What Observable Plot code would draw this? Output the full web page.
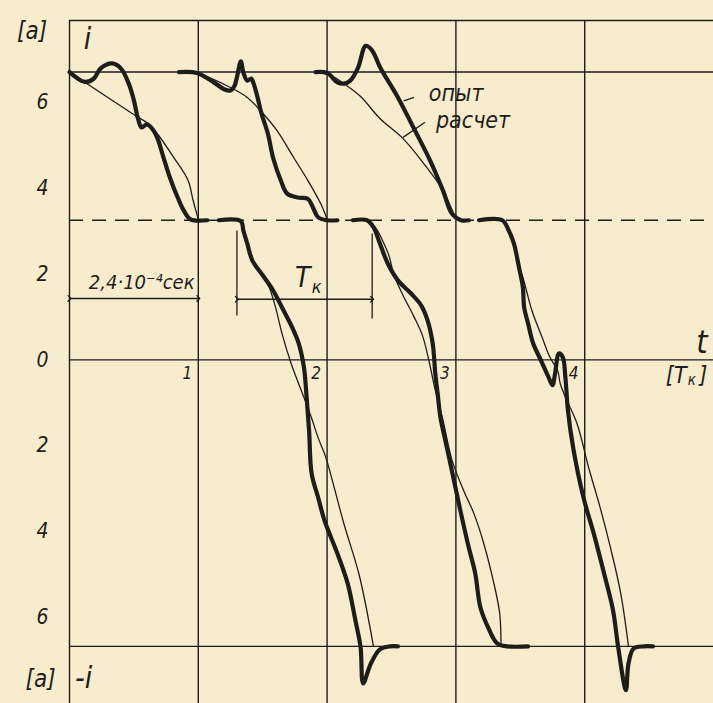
<!DOCTYPE html>
<html>
<head>
<meta charset="utf-8">
<script src="https://cdn.jsdelivr.net/npm/d3@7"></script>
<script src="https://cdn.jsdelivr.net/npm/@observablehq/plot@0.6"></script>
<style>
  html, body { margin: 0; padding: 0; background: #f7ecce; }
  #chart svg { display: block; background: #f7ecce; }
</style>
</head>
<body>
<div id="chart"></div>
<script>
// ---- Reference levels [a] ----
const levelTop = 6.7;
const levelHalf = 3.25;
const levelBottom = -6.67;
const frameTop = 7.9;

// ---- Grid ----
const periodLines = [0, 1, 2, 3, 4];          // t in [T_k]
const currentLines = [frameTop, levelTop, 0, levelBottom];
const yTickValues = [6, 4, 2, 0, -2, -4, -6];
const xTickValues = [1, 2, 3, 4];

// ---- Experiment ("опыт"), [t, i] ----
const expUpper1 = [[0,6.7],[0.12,6.47],[0.19,6.55],[0.24,6.78],[0.33,6.9],[0.4,6.78],[0.46,6.43],[0.5,6.04],[0.53,5.64],[0.56,5.41],[0.6,5.48],[0.64,5.39],[0.68,5.18],[0.73,4.71],[0.78,4.24],[0.84,3.78],[0.89,3.46],[0.94,3.27],[1.07,3.25]];
const expUpper2 = [[0.85,6.7],[0.99,6.68],[1.12,6.46],[1.2,6.3],[1.25,6.27],[1.28,6.37],[1.3,6.58],[1.33,6.95],[1.35,6.69],[1.38,6.5],[1.41,6.55],[1.43,6.43],[1.46,6.11],[1.49,5.74],[1.54,5.27],[1.58,4.71],[1.64,4.18],[1.69,3.87],[1.77,3.78],[1.85,3.75],[1.89,3.55],[1.93,3.32],[2.0,3.25],[2.08,3.25]];
const expUpper3 = [[1.91,6.7],[2.0,6.68],[2.08,6.46],[2.13,6.43],[2.18,6.5],[2.24,6.8],[2.3,7.31],[2.35,7.2],[2.41,6.82],[2.55,6.11],[2.67,5.41],[2.8,4.64],[2.9,3.94],[2.97,3.4],[3.04,3.25],[3.1,3.25]];
const expLower1 = [[1.16,3.25],[1.33,3.23],[1.35,3.01],[1.38,2.71],[1.42,2.31],[1.5,1.97],[1.58,1.62],[1.65,1.22],[1.73,0.75],[1.78,0.38],[1.82,-0.17],[1.84,-0.83],[1.86,-1.64],[1.88,-2.65],[1.93,-3.2],[1.98,-3.74],[2.08,-4.51],[2.16,-5.21],[2.22,-6.07],[2.26,-6.69],[2.28,-7.53],[2.34,-7.07],[2.41,-6.74],[2.49,-6.67],[2.55,-6.67]];
const expLower2 = [[2.2,3.25],[2.31,3.25],[2.36,3.09],[2.41,2.71],[2.47,2.25],[2.55,1.85],[2.65,1.55],[2.73,1.27],[2.78,0.92],[2.82,0.38],[2.84,-0.32],[2.86,-0.83],[2.88,-1.34],[2.93,-2.04],[2.98,-2.74],[3.04,-3.58],[3.1,-4.37],[3.15,-4.97],[3.19,-5.76],[3.25,-6.23],[3.32,-6.6],[3.4,-6.67],[3.56,-6.67]];
const expLower3 = [[3.18,3.25],[3.36,3.25],[3.41,3.01],[3.45,2.71],[3.49,2.15],[3.52,1.69],[3.53,1.22],[3.56,0.85],[3.6,0.38],[3.66,-0.01],[3.72,-0.41],[3.75,-0.59],[3.77,-0.32],[3.8,0.15],[3.83,0.06],[3.85,-0.41],[3.87,-1.18],[3.91,-2.04],[3.99,-3.2],[4.07,-4.04],[4.15,-4.97],[4.22,-5.83],[4.26,-6.69],[4.32,-7.69],[4.34,-7.07],[4.38,-6.72],[4.46,-6.67],[4.53,-6.67]];

// ---- Calculation ("расчет"), [t, i] ----
const calcUpper1 = [[0,6.7],[0.16,6.38],[0.51,5.69],[0.61,5.5],[0.68,5.27],[0.81,4.71],[0.92,4.18],[0.96,3.71],[1.0,3.27]];
const calcUpper2 = [[0.85,6.7],[1.02,6.64],[1.25,6.34],[1.38,6.11],[1.48,5.81],[1.61,5.34],[1.74,4.71],[1.85,4.18],[1.95,3.64],[2.0,3.28]];
const calcUpper3 = [[1.91,6.7],[2.03,6.62],[2.14,6.41],[2.26,6.13],[2.41,5.62],[2.59,5.15],[2.75,4.57],[2.9,3.94],[3.0,3.27]];
const calcLower1 = [[1.33,3.23],[1.35,3.01],[1.38,2.71],[1.42,2.31],[1.5,1.95],[1.55,1.69],[1.6,1.22],[1.65,0.61],[1.72,-0.08],[1.79,-0.64],[1.83,-0.95],[1.88,-1.36],[1.93,-1.81],[1.99,-2.27],[2.03,-2.69],[2.13,-3.81],[2.25,-5.02],[2.36,-6.67]];
const calcLower2 = [[2.31,3.25],[2.38,3.06],[2.43,2.78],[2.48,2.43],[2.52,1.97],[2.59,1.5],[2.67,1.03],[2.74,0.57],[2.79,-0.01],[2.84,-0.71],[2.9,-1.41],[2.97,-2.34],[3.06,-3.04],[3.14,-3.58],[3.21,-4.21],[3.29,-5.14],[3.34,-5.9],[3.35,-6.67]];
const calcLower3 = [[3.36,3.25],[3.41,3.01],[3.45,2.71],[3.49,2.15],[3.52,1.92],[3.59,1.15],[3.67,0.52],[3.73,0.06],[3.79,-0.25],[3.81,-0.55],[3.85,-0.87],[3.94,-1.48],[4.03,-2.5],[4.12,-3.44],[4.2,-4.37],[4.28,-5.44],[4.34,-6.67]];

// ---- Annotations (data coordinates) ----
const secSpan = {t1: 0, t2: 1, i: 1.43, label: "2,4·10⁻⁴сек", lt: 0.15, li: 1.8};
const tkSpan = {t1: 1.3, t2: 2.35, i: 1.41, label: "T", sub: "к", lt: 1.75, li: 1.9};
const tkTicks = [{t: 1.3, i1: 3.01, i2: 1.03}, {t: 2.35, i1: 2.94, i2: 0.96}];
const legendItems = [
  {label: "опыт", lt: 2.79, li: 6.2, t1: 2.595, i1: 6.03, t2: 2.675, i2: 6.11},
  {label: "расчет", lt: 2.845, li: 5.57, t1: 2.59, i1: 5.18, t2: 2.76, i2: 5.53}
];

const toRows = (curves) => curves.flatMap((pts, k) => pts.map(([t, i]) => ({t, i, k})));
const expRows = toRows([expUpper1, expUpper2, expUpper3, expLower1, expLower2, expLower3]);
const calcRows = toRows([calcUpper1, calcUpper2, calcUpper3, calcLower1, calcLower2, calcLower3]);

const ink = "#1f1d1a";
const font = "'Liberation Sans Narrow', 'DejaVu Sans Condensed', 'DejaVu Sans', sans-serif";
const txt = {fill: ink, fontStyle: "italic", fontFamily: font, stroke: null};

const chart = Plot.plot({
  width: 713,
  height: 703,
  marginLeft: 69,
  marginRight: 0,
  marginTop: 20,
  marginBottom: 0,
  x: {domain: [0, 5], axis: null},
  y: {domain: [-8, frameTop], axis: null},
  style: {background: "transparent", fontFamily: font},
  marks: [
    Plot.ruleX(periodLines, {stroke: ink, strokeWidth: 1.4}),
    Plot.ruleY(currentLines, {stroke: ink, strokeWidth: 1.4}),
    Plot.ruleY([levelHalf], {stroke: ink, strokeWidth: 1.6, strokeDasharray: "14,9"}),
    // calculation (thin)
    Plot.line(calcRows, {x: "t", y: "i", z: "k", curve: "catmull-rom", stroke: ink, strokeWidth: 1.3}),
    // experiment (thick)
    Plot.line(expRows, {x: "t", y: "i", z: "k", curve: "catmull-rom", stroke: ink, strokeWidth: 4.2, strokeLinecap: "round", strokeLinejoin: "round"}),
    // y tick labels
    Plot.text(yTickValues, {y: d => d, frameAnchor: "left", dx: -27, text: d => String(Math.abs(d)), fontSize: 21, textAnchor: "middle", ...txt}),
    // x tick labels on the zero line
    Plot.text(xTickValues, {x: d => d, y: () => 0, dx: -11, dy: 14, text: d => String(d), fontSize: 17, ...txt}),
    // axis titles
    Plot.text(["[a]"], {x: () => -0.29, y: () => 7.64, text: d => d, fontSize: 24, ...txt}),
    Plot.text(["i"], {x: () => 0.14, y: () => 7.46, text: d => d, fontSize: 30, ...txt}),
    Plot.text(["[a]"], {x: () => -0.225, y: () => -7.44, text: d => d, fontSize: 24, ...txt}),
    Plot.text(["-i"], {x: () => 0.11, y: () => -7.42, text: d => d, fontSize: 30, ...txt}),
    Plot.text(["t"], {x: () => 4.91, y: () => 0.4, text: d => d, fontSize: 32, ...txt}),
    Plot.text(["[T"], {x: () => 4.63, y: () => -0.36, text: d => d, fontSize: 23, textAnchor: "start", ...txt}),
    Plot.text(["к"], {x: () => 4.8, y: () => -0.48, text: d => d, fontSize: 15, textAnchor: "start", ...txt}),
    Plot.text(["]"], {x: () => 4.89, y: () => -0.36, text: d => d, fontSize: 23, textAnchor: "start", ...txt}),
    // span annotations
    Plot.link([secSpan, tkSpan], {x1: "t1", x2: "t2", y1: "i", y2: "i", stroke: ink, strokeWidth: 1.4, markerStart: "arrow", markerEnd: "arrow"}),
    Plot.link(tkTicks, {x1: "t", x2: "t", y1: "i1", y2: "i2", stroke: ink, strokeWidth: 1.3}),
    Plot.text([secSpan], {x: "lt", y: "li", text: "label", fontSize: 20, textAnchor: "start", ...txt}),
    Plot.text([tkSpan], {x: "lt", y: "li", text: "label", fontSize: 28, textAnchor: "start", ...txt}),
    Plot.text([tkSpan], {x: d => d.lt + 0.13, y: d => d.li - 0.2, text: "sub", fontSize: 18, textAnchor: "start", ...txt}),
    // legend
    Plot.link(legendItems, {x1: "t1", y1: "i1", x2: "t2", y2: "i2", stroke: ink, strokeWidth: 1.3}),
    Plot.text(legendItems, {x: "lt", y: "li", text: "label", fontSize: 23, textAnchor: "start", ...txt})
  ]
});
document.getElementById("chart").appendChild(chart);
</script>
</body>
</html>
